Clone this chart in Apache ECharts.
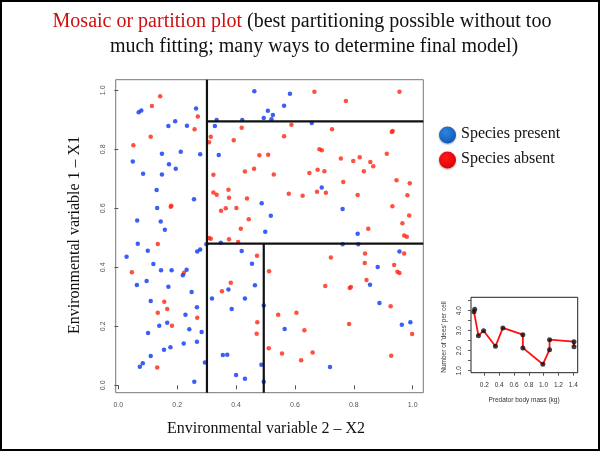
<!DOCTYPE html>
<html>
<head>
<meta charset="utf-8">
<script src="https://cdn.jsdelivr.net/npm/echarts@6/dist/echarts.min.js"></script>
<style>
html,body{margin:0;padding:0;background:#fff;}
#c{width:601px;height:452px;}
</style>
</head>
<body>
<div id="c"></div>
<script>
// ---------- Data ----------
const titleRed = 'Mosaic or partition plot';
const titleRest1 = ' (best partitioning possible without too';
const titleLine2 = 'much fitting; many ways to determine final model)';
const xTitle = 'Environmental variable 2 \u2013 X2';
const yTitle = 'Environmental variable 1 \u2013 X1';
const legendLabels = ['Species present', 'Species absent'];
const mainTicks = [0, 0.2, 0.4, 0.6, 0.8, 1.0];

// Species present (x2, x1)
const presentX = [0.069,0.078,0.264,0.193,0.170,0.233,0.148,0.212,0.278,0.049,0.172,0.195,0.084,0.148,0.130,0.257,0.132,0.064,0.144,0.158,
  0.462,0.583,0.563,0.508,0.525,0.494,0.520,0.421,0.334,0.328,0.341,0.487,0.518,0.499,0.657,0.691,0.762,0.813,
  0.066,0.299,0.348,0.028,0.100,0.268,0.278,0.419,0.454,0.119,0.145,0.181,0.232,0.219,0.096,0.063,0.170,0.374,0.464,0.249,0.318,0.430,
  0.110,0.267,0.385,0.494,0.228,0.166,0.139,0.241,0.283,0.101,0.565,0.267,0.222,0.177,0.155,0.110,0.355,0.370,0.294,0.083,0.073,0.486,
  0.400,0.430,0.258,0.494,0.762,0.815,0.955,0.881,0.855,0.887,0.963,0.992,0.719];
const presentY = [0.926,0.932,0.938,0.895,0.879,0.880,0.785,0.792,0.783,0.759,0.749,0.734,0.717,0.715,0.662,0.631,0.601,0.559,0.555,0.527,
  0.997,0.988,0.948,0.931,0.916,0.906,0.902,0.899,0.899,0.879,0.781,0.617,0.575,0.521,0.889,0.671,0.598,0.514,
  0.480,0.478,0.483,0.436,0.456,0.454,0.460,0.455,0.412,0.411,0.390,0.390,0.392,0.373,0.354,0.340,0.334,0.325,0.339,0.316,0.294,0.294,
  0.286,0.265,0.259,0.271,0.239,0.212,0.202,0.190,0.181,0.177,0.191,0.148,0.142,0.129,0.121,0.099,0.103,0.104,0.077,0.075,0.063,0.070,
  0.035,0.022,0.012,0.012,0.478,0.478,0.454,0.401,0.341,0.279,0.205,0.214,0.062];

// Species absent (x2, x1)
const absentX = [0.142,0.114,0.270,0.259,0.110,0.051,0.178,0.180,0.419,0.588,0.563,0.314,0.308,0.392,0.479,0.509,0.430,0.461,0.528,0.649,
  0.323,0.323,0.334,0.374,0.376,0.437,0.579,0.626,0.349,0.365,0.401,0.443,0.416,
  0.666,0.773,0.955,0.726,0.932,0.929,0.683,0.691,0.756,0.798,0.820,0.912,0.856,0.866,0.834,0.677,0.700,0.945,0.990,0.764,0.675,0.705,
  0.813,0.982,0.931,0.988,0.965,0.849,0.971,0.980,
  0.308,0.314,0.376,0.407,0.134,0.471,0.512,0.046,0.223,0.382,0.352,0.156,0.134,0.166,0.268,0.182,0.472,0.543,0.605,0.632,0.470,0.511,
  0.556,0.621,0.132,
  0.971,0.838,0.722,0.837,0.937,0.948,0.955,0.843,0.703,0.786,0.790,0.925,0.784,0.998,0.660,0.927];
const absentY = [0.980,0.947,0.911,0.868,0.843,0.814,0.605,0.609,0.873,0.883,0.844,0.843,0.824,0.831,0.780,0.782,0.725,0.734,0.715,0.720,
  0.714,0.654,0.646,0.663,0.636,0.633,0.649,0.643,0.592,0.600,0.601,0.563,0.531,
  0.995,0.964,0.995,0.868,0.862,0.859,0.800,0.797,0.769,0.760,0.773,0.785,0.757,0.743,0.726,0.731,0.726,0.695,0.685,0.689,0.656,0.653,
  0.645,0.644,0.607,0.576,0.549,0.531,0.508,0.504,
  0.499,0.497,0.495,0.486,0.479,0.439,0.387,0.383,0.382,0.348,0.319,0.283,0.246,0.259,0.229,0.202,0.214,0.239,0.246,0.187,0.175,0.126,
  0.108,0.085,0.060,
  0.447,0.447,0.433,0.415,0.408,0.385,0.381,0.357,0.337,0.330,0.333,0.268,0.208,0.174,0.111,0.100];

// Partition split values
const splitX2a = 0.301;   // first split on X2
const splitX1top = 0.895; // split on X1 (upper)
const splitX1mid = 0.48;  // split on X1 (middle)
const splitX2b = 0.494;   // second split on X2

// Inset: predator body mass vs number of 'dees' per cell
const insetMass = [0.07,0.06,0.12,0.19,0.35,0.45,0.72,0.72,0.99,1.08,1.08,1.41,1.41];
const insetDees = [4.07,3.95,2.75,3.00,2.22,3.14,2.80,2.14,1.32,2.05,2.55,2.45,2.20];
const insetXTicks = [0.2,0.4,0.6,0.8,1.0,1.2,1.4];
const insetYTicks = [1.0,1.5,2.0,2.5,3.0,3.5,4.0,4.5];
const insetYLabels = [1.0,2.0,3.0,4.0];
const insetXTitle = 'Predator body mass (kg)';
const insetYTitle = "Number of 'dees' per cell";

// ---------- Build ----------
const xMin = -0.009, xMax = 1.036, yMin = -0.025, yMax = 1.036;
const zip = (a, b) => a.map((v, i) => [v, b[i]]);
const serif = '"Liberation Serif", "DejaVu Serif", serif';
const sans = '"Liberation Sans", Arial, sans-serif';
const fmt1 = v => Number(v).toFixed(1);

const axisCommon = {
  type: 'value',
  splitLine: { show: false },
  axisLine: { show: false },
  axisTick: { show: true, inside: false, length: 4, lineStyle: { color: '#555', width: 1 } },
  axisLabel: { fontSize: 7, color: '#555', fontFamily: sans, formatter: fmt1 }
};

const partitionLines = [
  [[splitX2a, yMin], [splitX2a, yMax]],
  [[splitX2a, splitX1top], [xMax, splitX1top]],
  [[splitX2a, splitX1mid], [xMax, splitX1mid]],
  [[splitX2b, splitX1mid], [splitX2b, yMin]]
];

const chart = echarts.init(document.getElementById('c'), null, { renderer: 'canvas' });
chart.setOption({
  backgroundColor: '#fff',
  animation: false,
  grid: [
    { left: 115.7, top: 79.7, width: 307.6, height: 313, show: true, borderColor: '#777', borderWidth: 1 },
    { left: 471, top: 297.3, width: 106.7, height: 75.4, show: true, borderColor: '#222', borderWidth: 1 }
  ],
  xAxis: [
    Object.assign({}, axisCommon, {
      gridIndex: 0, min: xMin, max: xMax,
      axisTick: Object.assign({}, axisCommon.axisTick, { customValues: mainTicks }),
      axisLabel: Object.assign({}, axisCommon.axisLabel, { customValues: mainTicks, margin: 9 })
    }),
    Object.assign({}, axisCommon, {
      gridIndex: 1, min: 0.02, max: 1.46,
      axisTick: Object.assign({}, axisCommon.axisTick, { customValues: insetXTicks, length: 3 }),
      axisLabel: Object.assign({}, axisCommon.axisLabel, { customValues: insetXTicks, margin: 9, fontSize: 6.5, color: '#333' })
    })
  ],
  yAxis: [
    Object.assign({}, axisCommon, {
      gridIndex: 0, min: yMin, max: yMax,
      axisTick: Object.assign({}, axisCommon.axisTick, { customValues: mainTicks }),
      axisLabel: Object.assign({}, axisCommon.axisLabel, { customValues: mainTicks, rotate: 90, margin: 9 })
    }),
    Object.assign({}, axisCommon, {
      gridIndex: 1, min: 0.9, max: 4.67,
      axisTick: Object.assign({}, axisCommon.axisTick, { customValues: insetYTicks, length: 3 }),
      axisLabel: Object.assign({}, axisCommon.axisLabel, { customValues: insetYLabels, rotate: 90, margin: 8, fontSize: 6.5, color: '#333' })
    })
  ],
  series: [
    {
      type: 'scatter', xAxisIndex: 0, yAxisIndex: 0,
      data: zip(absentX, absentY), symbolSize: 4.5,
      itemStyle: { color: '#ff2410' }, silent: true
    },
    {
      type: 'scatter', xAxisIndex: 0, yAxisIndex: 0,
      data: zip(presentX, presentY), symbolSize: 4.5,
      itemStyle: { color: '#0a36f5' }, silent: true
    },
    ...partitionLines.map(seg => ({
      type: 'line', xAxisIndex: 0, yAxisIndex: 0, data: seg,
      showSymbol: false, z: 5, silent: true,
      lineStyle: { color: '#111', width: 2.2 }
    })),
    {
      type: 'line', xAxisIndex: 1, yAxisIndex: 1,
      data: zip(insetMass, insetDees), showSymbol: false, silent: true,
      lineStyle: { color: '#ff1010', width: 1.8 }
    },
    {
      type: 'scatter', xAxisIndex: 1, yAxisIndex: 1,
      data: zip(insetMass, insetDees), symbolSize: 5, z: 4, silent: true,
      itemStyle: { color: '#111' }
    }
  ],
  graphic: [
    { type: 'rect', shape: { x: 1, y: 1, width: 598, height: 449 }, style: { fill: 'none', stroke: '#000', lineWidth: 2 }, silent: true },
    {
      type: 'text', x: 302, y: 22,
      style: {
        text: '{r|' + titleRed + '}{b|' + titleRest1 + '}',
        align: 'center', verticalAlign: 'middle',
        rich: {
          r: { fontFamily: serif, fontSize: 20, fill: '#cc1010' },
          b: { fontFamily: serif, fontSize: 20, fill: '#111' }
        }
      }
    },
    { type: 'text', x: 314, y: 47, style: { text: titleLine2, fontFamily: serif, fontSize: 20, fill: '#111', align: 'center', verticalAlign: 'middle' } },
    { type: 'text', x: 266, y: 429, style: { text: xTitle, fontFamily: serif, fontSize: 16, fill: '#111', align: 'center', verticalAlign: 'middle' } },
    { type: 'text', x: 75, y: 235, rotation: Math.PI / 2, style: { text: yTitle, fontFamily: serif, fontSize: 16, fill: '#111', align: 'center', verticalAlign: 'middle' } },
    {
      type: 'circle', shape: { cx: 447.5, cy: 135, r: 8.5 },
      style: { fill: new echarts.graphic.RadialGradient(0.4, 0.35, 0.7, [{ offset: 0, color: '#2f86e0' }, { offset: 1, color: '#0b58b5' }]), shadowBlur: 2, shadowColor: 'rgba(0,0,0,0.35)', shadowOffsetY: 1 }
    },
    {
      type: 'circle', shape: { cx: 447.5, cy: 160, r: 8.5 },
      style: { fill: new echarts.graphic.RadialGradient(0.4, 0.35, 0.7, [{ offset: 0, color: '#ff1a1a' }, { offset: 1, color: '#e00000' }]), shadowBlur: 2, shadowColor: 'rgba(0,0,0,0.35)', shadowOffsetY: 1 }
    },
    { type: 'text', x: 461, y: 134, style: { text: legendLabels[0], fontFamily: serif, fontSize: 16, fill: '#111', align: 'left', verticalAlign: 'middle' } },
    { type: 'text', x: 461, y: 159, style: { text: legendLabels[1], fontFamily: serif, fontSize: 16, fill: '#111', align: 'left', verticalAlign: 'middle' } },
    { type: 'text', x: 524, y: 400, style: { text: insetXTitle, fontFamily: sans, fontSize: 6.5, fill: '#333', align: 'center', verticalAlign: 'middle' } },
    { type: 'text', x: 444, y: 337, rotation: Math.PI / 2, style: { text: insetYTitle, fontFamily: sans, fontSize: 6.5, fill: '#333', align: 'center', verticalAlign: 'middle' } }
  ]
});
</script>
</body>
</html>
